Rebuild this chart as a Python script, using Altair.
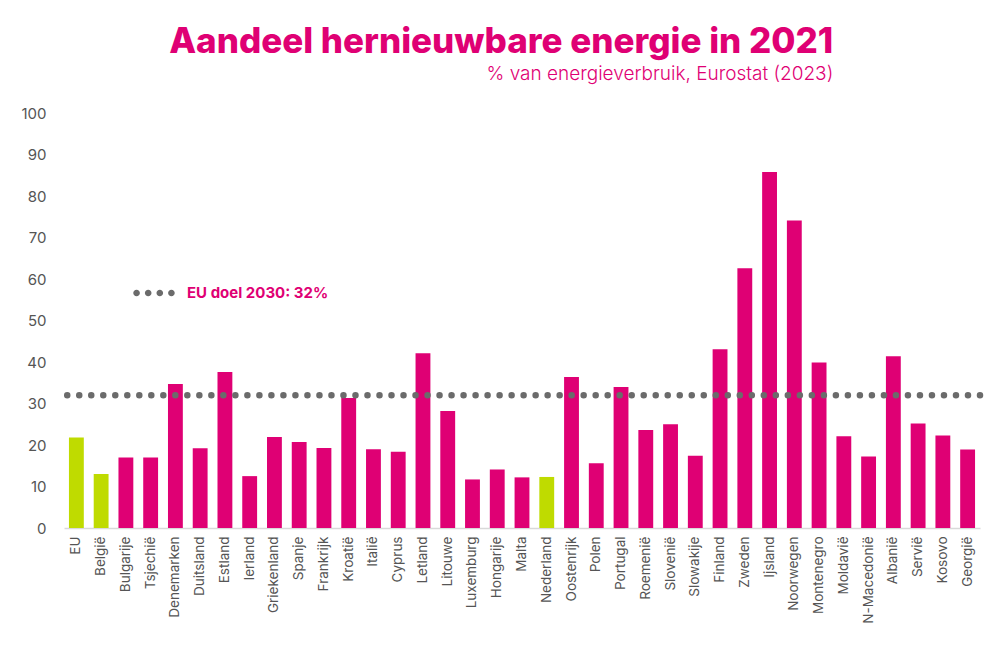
import altair as alt
import pandas as pd

countries = ["EU", "België", "Bulgarije", "Tsjechië", "Denemarken", "Duitsland", "Estland",
             "Ierland", "Griekenland", "Spanje", "Frankrijk", "Kroatië", "Italië", "Cyprus",
             "Letland", "Litouwe", "Luxemburg", "Hongarije", "Malta", "Nederland", "Oostenrijk",
             "Polen", "Portugal", "Roemenië", "Slovenië", "Slowakije", "Finland", "Zweden",
             "Ijsland", "Noorwegen", "Montenegro", "Moldavië", "N-Macedonië", "Albanië",
             "Servië", "Kosovo", "Georgië"]
shares = [21.8, 13.0, 17.0, 17.0, 34.7, 19.2, 37.6,
          12.5, 21.9, 20.7, 19.3, 31.3, 19.0, 18.4,
          42.1, 28.2, 11.7, 14.1, 12.2, 12.3, 36.4,
          15.6, 34.0, 23.6, 25.0, 17.4, 43.1, 62.6,
          85.8, 74.1, 39.9, 22.1, 17.2, 41.4,
          25.2, 22.3, 18.9]
highlight = ["EU", "België", "Nederland"]
target_value = [32]
target_label = ["EU doel 2030: 32%"]

MAGENTA = "#DF0074"
GREEN = "#BFDB00"
GRAY = "#6B6B6B"
FONT = "Inter"

df = pd.DataFrame({
    "land": countries,
    "aandeel": shares,
    "groep": ["nadruk" if c in highlight else "overig" for c in countries],
})
tdf = pd.DataFrame({"doel": target_value, "label": target_label})

x_enc = alt.X("land:N", sort=countries, title=None,
              scale=alt.Scale(paddingInner=0.4, paddingOuter=0.2),
              axis=alt.Axis(labelAngle=-90, labelAlign="right", labelBaseline="middle",
                            labelFont=FONT, labelFontSize=13.5, labelColor="#555555",
                            labelPadding=8, ticks=False, domainColor="#D9D9D9",
                            domainWidth=1.5))
y_scale = alt.Scale(domain=[0, 100])

bars = alt.Chart(df).mark_bar().encode(
    x=x_enc,
    y=alt.Y("aandeel:Q", scale=y_scale, title=None,
            axis=alt.Axis(values=list(range(0, 101, 10)), grid=False, domain=False,
                          ticks=False, labelFont=FONT, labelFontSize=15,
                          labelColor="#555555", labelPadding=18)),
    color=alt.Color("groep:N", scale=alt.Scale(domain=["nadruk", "overig"],
                                              range=[GREEN, MAGENTA]), legend=None),
)

dots_path = ("M-1,0a0.16,0.16 0 1,0 0.32,0a0.16,0.16 0 1,0 -0.32,0Z"
             "M-0.44,0a0.16,0.16 0 1,0 0.32,0a0.16,0.16 0 1,0 -0.32,0Z"
             "M0.12,0a0.16,0.16 0 1,0 0.32,0a0.16,0.16 0 1,0 -0.32,0Z"
             "M0.68,0a0.16,0.16 0 1,0 0.32,0a0.16,0.16 0 1,0 -0.32,0Z")

rule = alt.Chart(tdf).mark_rule(strokeDash=[0.01, 12], strokeCap="round",
                                strokeWidth=6.5).encode(
    y=alt.Y("doel:Q", scale=y_scale),
    stroke=alt.Stroke("label:N", scale=alt.Scale(domain=target_label, range=[GRAY]),
                      legend=alt.Legend(orient="none", legendX=69, legendY=159, title=None,
                                        symbolType=dots_path, symbolSize=1720,
                                        symbolFillColor=GRAY, symbolStrokeWidth=0,
                                        symbolStrokeColor="transparent",
                                        labelColor=MAGENTA, labelFont=FONT,
                                        labelFontWeight="bold", labelFontSize=15,
                                        labelOffset=12)),
)

chart = alt.layer(bars, rule).resolve_scale(color="independent").properties(
    width=916, height=415,
    padding={"left": 12, "top": 17, "right": 5, "bottom": 5},
    title=alt.TitleParams(
        text="Aandeel hernieuwbare energie in 2021",
        subtitle="% van energieverbruik, Eurostat (2023)",
        anchor="end", dx=-150, font=FONT, fontSize=35, fontWeight=800,
        color=MAGENTA, subtitleFont=FONT, subtitleFontSize=19,
        subtitleFontWeight=300, subtitleColor=MAGENTA, subtitlePadding=5,
        offset=22,
    ),
).configure_view(stroke=None)

chart.save("out.html", embed_options={"renderer": "svg", "actions": False})
